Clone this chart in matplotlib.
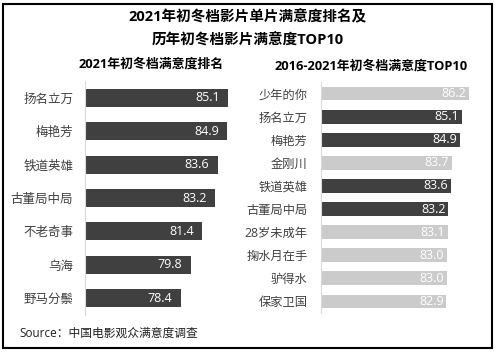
import matplotlib.pyplot as plt
from matplotlib.patches import Rectangle

plt.rcParams['font.family'] = ['Open Sans', 'Noto Sans CJK SC', 'DejaVu Sans']

# 2021年初冬档满意度排名
films_2021 = ['扬名立万', '梅艳芳', '铁道英雄', '古董局中局', '不老奇事', '乌海', '野马分鬃']
scores_2021 = [85.1, 84.9, 83.6, 83.2, 81.4, 79.8, 78.4]

# 2016-2021年初冬档满意度TOP10
films_top = ['少年的你', '扬名立万', '梅艳芳', '金刚川', '铁道英雄', '古董局中局',
             '28岁未成年', '掬水月在手', '驴得水', '保家卫国']
scores_top = [86.2, 85.1, 84.9, 83.7, 83.6, 83.2, 83.1, 83.0, 83.0, 82.9]
is_2021 = [False, True, True, False, True, True, False, False, False, False]

dark = '#404040'
light = '#cbcbcb'
W, H = 496, 352

fig = plt.figure(figsize=(W / 100, H / 100), dpi=100)
fig.patch.set_facecolor('white')

# 外框
fig.patches.append(Rectangle((3 / W, 4 / H), 489 / W, 344 / H, transform=fig.transFigure,
                             fill=False, edgecolor='black', linewidth=1.5))

# 标题
fig.text(0.5, 1 - 17 / H, '2021年初冬档影片单片满意度排名及', ha='center', va='center',
         fontsize=10.5, fontweight='bold')
fig.text(0.5, 1 - 40 / H, '历年初冬档影片满意度TOP10', ha='center', va='center',
         fontsize=10.5, fontweight='bold')
fig.text(151 / W, 1 - 64 / H, '2021年初冬档满意度排名', ha='center', va='center',
         fontsize=9.3, fontweight='bold')
fig.text(371 / W, 1 - 66 / H, '2016-2021年初冬档满意度TOP10', ha='center', va='center',
         fontsize=9.3, fontweight='bold')


def style_axes(ax, pad):
    for s in ['top', 'right', 'bottom']:
        ax.spines[s].set_visible(False)
    ax.spines['left'].set_color('#d9d9d9')
    ax.tick_params(axis='both', length=0)
    ax.tick_params(axis='y', pad=pad, labelcolor='#404040')
    ax.set_xticks([])


# 左图
ax1 = fig.add_axes([85 / W, 1 - 315 / H, 157 / W, 234 / H])
y1 = range(len(films_2021))
ax1.barh(y1, scores_2021, left=0, height=0.54, color=dark)
ax1.set_xlim(65, 87)
ax1.set_ylim(len(films_2021) - 0.5, -0.5)
ax1.set_yticks(list(y1))
ax1.set_yticklabels(films_2021, fontsize=9)
style_axes(ax1, 8.5)
for i, v in enumerate(scores_2021):
    ax1.annotate(f'{v:.1f}', (v, i), xytext=(-6, 0), textcoords='offset points',
                 ha='right', va='center', color='white', fontsize=9)

# 右图
ax2 = fig.add_axes([321 / W, 1 - 313 / H, 161 / W, 231 / H])
y2 = range(len(films_top))
colors = [dark if h else light for h in is_2021]
ax2.barh(y2, scores_top, height=0.6, color=colors)
ax2.set_xlim(65, 88)
ax2.set_ylim(len(films_top) - 0.5, -0.5)
ax2.set_yticks(list(y2))
ax2.set_yticklabels(films_top, fontsize=8.8)
style_axes(ax2, 9.5)
for i, v in enumerate(scores_top):
    ax2.annotate(f'{v:.1f}', (v, i), xytext=(-2, 0), textcoords='offset points',
                 ha='right', va='center', color='white', fontsize=9)

# 来源
fig.text(19 / W, 1 - 333 / H, 'Source：中国电影观众满意度调查', ha='left', va='center',
         fontsize=8.5, color='#202020')

fig.savefig('out.png', dpi=100)
